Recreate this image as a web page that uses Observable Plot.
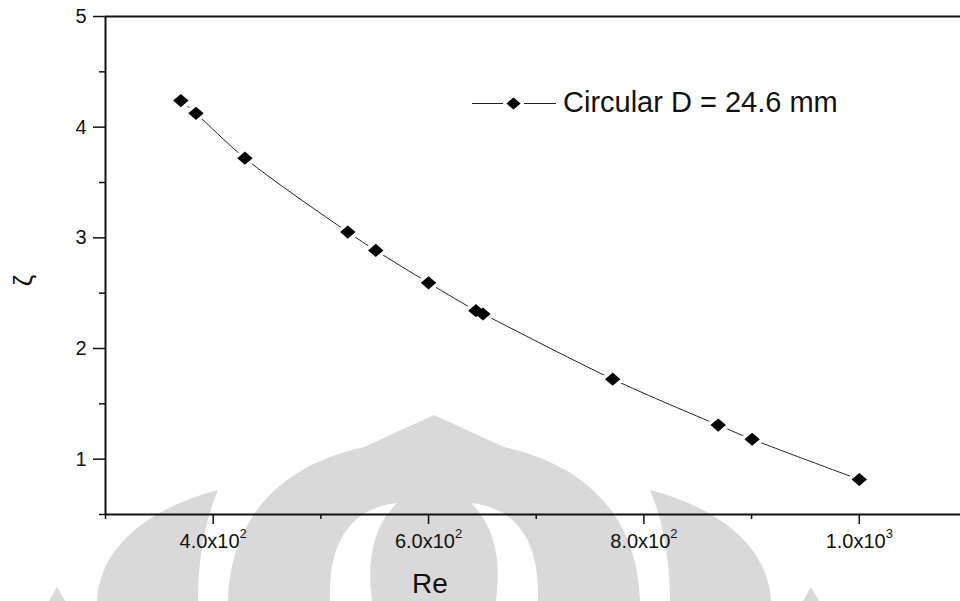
<!DOCTYPE html>
<html><head><meta charset="utf-8">
<script src="https://cdn.jsdelivr.net/npm/d3@7"></script>
<script src="https://cdn.jsdelivr.net/npm/@observablehq/plot@0.6"></script>
<style>
html,body{margin:0;padding:0;background:#fff;}
#chart{position:relative;width:960px;height:601px;overflow:hidden;}
#chart svg{display:block;}
</style>
</head><body><div id="chart"></div>
<script>
// ---- data ----
const reynolds = [370, 384, 429.5, 525, 551, 600, 644, 650.5, 771, 869, 900.5, 1000];
const zeta     = [4.24, 4.125, 3.72, 3.052, 2.886, 2.593, 2.342, 2.312, 1.723, 1.308, 1.18, 0.816];
const xMajorTicks = [400, 600, 800, 1000];
const xTickLabels = ["4.0x10²", "6.0x10²", "8.0x10²", "1.0x10³"];
const xMinorTicks = [300, 500, 700, 900];
const yMajorTicks = [1, 2, 3, 4, 5];
const yTickLabels = ["1", "2", "3", "4", "5"];
const yMinorTicks = [0.5, 1.5, 2.5, 3.5, 4.5];
const seriesName = "Circular D = 24.6 mm";
const xLabel = "Re";
const yLabel = "ζ";

const data = reynolds.map((re, i) => ({re, zeta: zeta[i]}));

const FONT = "'Liberation Sans', Arial, Helvetica, sans-serif";
const INK = "#111";

// diamond marker, slightly wider than tall
const diamond = {
  draw(ctx, size) {
    const r = Math.sqrt(size / Math.PI);
    ctx.moveTo(0, -0.94 * r);
    ctx.lineTo(1.1 * r, 0);
    ctx.lineTo(0, 0.94 * r);
    ctx.lineTo(-1.1 * r, 0);
    ctx.closePath();
  }
};

const plot = Plot.plot({
  width: 960,
  height: 601,
  marginLeft: 105,
  marginRight: 0,
  marginTop: 16,
  marginBottom: 87,
  style: {fontFamily: FONT, fontSize: "20px", background: "transparent", color: INK, overflow: "visible"},
  x: {domain: [300, 1094], label: null},
  y: {domain: [0.5, 5], label: null},
  marks: [
    Plot.axisX({ticks: xMinorTicks, tickSize: 5, tickFormat: () => "", label: null, strokeWidth: 1.5}),
    Plot.axisX({ticks: xMajorTicks, tickSize: 10, tickPadding: 9, label: null, strokeWidth: 1.5,
      tickFormat: (d) => xTickLabels[xMajorTicks.indexOf(d)]}),
    Plot.axisY({ticks: yMinorTicks, tickSize: 6, tickFormat: () => "", label: null, strokeWidth: 1.5}),
    Plot.axisY({ticks: yMajorTicks, tickSize: 12, tickPadding: 7, label: null, strokeWidth: 1.5,
      tickFormat: (d) => yTickLabels[yMajorTicks.indexOf(d)]}),
    Plot.ruleX([300], {stroke: INK, strokeWidth: 2}),
    Plot.ruleY([0.5, 5], {stroke: INK, strokeWidth: 2}),
    Plot.line(data, {x: "re", y: "zeta", curve: "catmull-rom", stroke: "#222", strokeWidth: 1}),
    Plot.dot(data, {x: "re", y: "zeta", symbol: diamond, r: 7, fill: "#000", stroke: "#fff", strokeWidth: 7}),
    Plot.dot(data, {x: "re", y: "zeta", symbol: diamond, r: 7, fill: "#000", stroke: "none"})
  ]
});

document.getElementById("chart").appendChild(plot);

const svg = d3.select(plot);

// tick labels at the reference size
svg.selectAll("text")
  .attr("font-size", 20)
  .style("font-size", "20px")
  .style("font-family", FONT);

// render the power of ten as a real superscript
svg.selectAll("text").each(function () {
  const t = d3.select(this);
  const s = t.text();
  const sup = {"²": "2", "³": "3"}[s.slice(-1)];
  if (!sup) return;
  t.text(null);
  t.append("tspan").text(s.slice(0, -1));
  t.append("tspan").attr("font-size", 13).style("font-size", "13px").attr("dy", "-0.75em").text(sup);
});

// ---- background watermark (decorative logo behind the chart) ----
const watermarkPaths = [
  "M228 601 C230 530 268 468 364 447 L434 415 L504 447 C600 468 638 530 640 601 Z",
  "M218 490 C160 505 100 540 97 601 L198 601 C198 560 205 520 218 490 Z",
  "M650 490 C708 505 768 540 771 601 L670 601 C670 560 663 520 650 490 Z",
  "M57 587 C54 592 51 597 49 601 L65 601 C62 596 60 591 57 587 Z",
  "M811 587 C814 592 817 597 819 601 L803 601 C806 596 808 591 811 587 Z"
];
const holePaths = [
  "M397 503 C352 508 328 540 330 601 L372 601 C367 560 372 528 397 503 Z",
  "M471 503 C516 508 540 540 538 601 L496 601 C501 560 496 528 471 503 Z"
];
const wm = svg.insert("g", ":first-child").attr("class", "watermark");
wm.selectAll("path.wm").data(watermarkPaths).join("path").attr("class", "wm").attr("d", d => d).attr("fill", "#d9d9d9");
wm.selectAll("path.hole").data(holePaths).join("path").attr("class", "hole").attr("d", d => d).attr("fill", "#fff");

// ---- axis titles ----
svg.append("text")
  .attr("x", 430).attr("y", 593)
  .attr("text-anchor", "middle")
  .attr("font-family", FONT).attr("font-size", 28).attr("fill", INK)
  .text(xLabel);
svg.append("text")
  .attr("transform", "translate(32,280.5) rotate(-90)")
  .attr("text-anchor", "middle")
  .attr("font-family", FONT).attr("font-size", 26).attr("fill", INK)
  .text(yLabel);

// ---- legend ----
const lg = svg.append("g").attr("class", "legend");
lg.append("line").attr("x1", 472).attr("x2", 503).attr("y1", 103.5).attr("y2", 103.5).attr("stroke", "#222").attr("stroke-width", 1);
lg.append("line").attr("x1", 524).attr("x2", 556).attr("y1", 103.5).attr("y2", 103.5).attr("stroke", "#222").attr("stroke-width", 1);
lg.append("path").attr("transform", "translate(513.5,103.5)")
  .attr("d", d3.symbol(diamond, Math.PI * 6.5 * 6.5)()).attr("fill", "#000");
lg.append("text").attr("x", 563).attr("y", 112)
  .attr("text-anchor", "start")
  .attr("font-family", FONT).attr("font-size", 29).attr("fill", INK)
  .text(seriesName);
</script>
</body></html>
